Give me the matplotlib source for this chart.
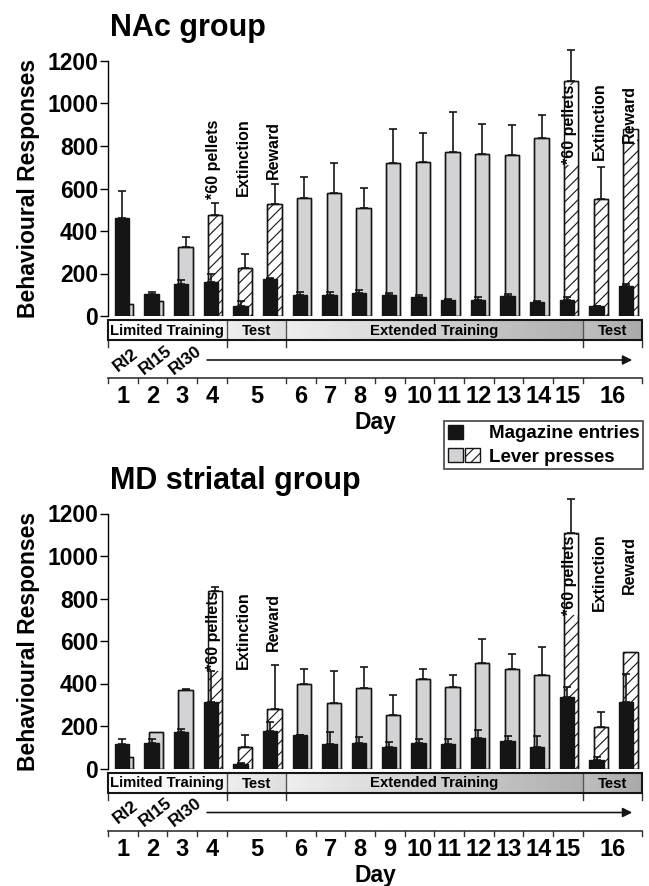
import numpy as np
import matplotlib
matplotlib.use('Agg')
import matplotlib.pyplot as plt
from matplotlib.patches import Patch, Rectangle
from matplotlib.legend_handler import HandlerTuple

plt.rcParams['font.family'] = ['Liberation Sans', 'DejaVu Sans']
plt.rcParams['font.weight'] = 'bold'
plt.rcParams['hatch.linewidth'] = 0.8

# ---- data ----
day_labels = [str(d) for d in range(1, 17)]
slots_per_day = [1, 1, 1, 1, 2, 1, 1, 1, 1, 1, 1, 1, 1, 1, 1, 2]
phase_names = ['Limited Training', 'Test', 'Extended Training', 'Test']
phase_days = [4, 1, 10, 1]
schedule_labels = ['RI2', 'RI15', 'RI30']
hatched_slots = [3, 4, 5, 15, 16, 17]
note_slots = [3, 4, 5, 15, 16, 17]
note_texts = ['*60 pellets', 'Extinction', 'Reward', '*60 pellets', 'Extinction', 'Reward']

nac_mag = [459, 105, 152, 161, 49, 174, 100, 100, 107, 97, 88, 74, 77, 96, 67, 74, 45, 139]
nac_mag_err = [130, 6, 19, 38, 20, 3, 11, 13, 15, 10, 9, 7, 11, 6, 3, 14, 4, 11]
nac_lever = [58, 70, 327, 475, 224, 525, 555, 578, 508, 719, 724, 772, 763, 757, 838, 1108, 550, 879]
nac_lever_err = [0, 0, 43, 59, 67, 94, 97, 141, 94, 160, 136, 190, 142, 142, 110, 144, 149, 0]
nac_note_y = [736, 747, 781, 900, 915, 952]

md_mag = [114, 122, 172, 312, 20, 175, 156, 116, 119, 102, 122, 115, 145, 128, 103, 338, 39, 312]
md_mag_err = [24, 15, 15, 146, 8, 44, 3, 56, 31, 21, 15, 26, 35, 25, 50, 46, 13, 133]
md_lever = [54, 173, 369, 833, 103, 281, 400, 309, 380, 252, 419, 384, 497, 469, 438, 1109, 194, 548]
md_lever_err = [0, 0, 6, 23, 53, 208, 66, 149, 97, 96, 47, 54, 112, 70, 132, 157, 72, 0]
md_note_y = [648, 650, 690, 911, 924, 960]

# ---- layout (pixels) ----
W, H = 649, 886
AX_L, AX_R = 108, 642
Y0, Y1200 = 316, 61
LOW_H = 117
DARK = '#151515'
GRAY = '#d3d3d5'
phase_shades = [(1.0, 0.95), (0.93, 0.87), (0.93, 0.69), (0.75, 0.66)]

fig = plt.figure(figsize=(W / 100, H / 100), dpi=100)


def px_axes(left, top, right, bottom):
    return fig.add_axes([left / W, 1 - bottom / H, (right - left) / W, (bottom - top) / H])


bounds = np.concatenate([[0], np.cumsum(slots_per_day)])
n_slots = int(bounds[-1])
centers = (bounds[:-1] + bounds[1:]) / 2
phase_bounds = bounds[np.concatenate([[0], np.cumsum(phase_days)])]


def draw_panel(off, title, mag, mag_err, lever, lever_err, note_y):
    ax = px_axes(AX_L, Y1200 + off, AX_R, Y0 + off)
    x = np.arange(n_slots) + 0.5
    xm, xl = x - 0.03, x + 0.115
    bw = 0.48

    lever_bars = ax.bar(xl, lever, width=bw, color=GRAY, edgecolor=DARK, linewidth=1.0, zorder=1)
    for i, b in enumerate(lever_bars):
        if i in hatched_slots:
            b.set_facecolor('white')
            b.set_hatch('///')
    ax.bar(xm, mag, width=bw, color=DARK, edgecolor=DARK, linewidth=1.0, zorder=2)

    for s, t, y in zip(note_slots, note_texts, note_y):
        ax.text(s + 0.56, y, t, rotation=90, ha='center', va='center', fontsize=11.5,
                fontweight='bold', zorder=3,
                bbox=dict(facecolor='white', edgecolor='none', pad=0.3))
    # outlines again so they stay visible around the note boxes
    ax.bar(xl, lever, width=bw, facecolor='none', edgecolor=DARK, linewidth=1.0, zorder=4)

    for xs, vals, errs in [(xm, mag, mag_err), (xl, lever, lever_err)]:
        vals, errs = np.array(vals), np.array(errs)
        keep = errs > 0
        eb = ax.errorbar(xs[keep], vals[keep], yerr=[np.zeros(keep.sum()), errs[keep]],
                         fmt='none', ecolor=DARK, elinewidth=1.2, capsize=3, capthick=1.2,
                         zorder=5)
        for art in eb.lines[1] + eb.lines[2]:
            art.set_clip_on(False)

    ax.set_xlim(0, n_slots)
    ax.set_ylim(0, 1200)
    ax.set_yticks(range(0, 1201, 200))
    ax.tick_params(axis='y', labelsize=16.5, length=5.5, width=1.0, pad=1.5)
    for lab in ax.get_yticklabels():
        lab.set_fontweight('bold')
    ax.set_xticks([])
    for sp in ['top', 'right', 'bottom']:
        ax.spines[sp].set_visible(False)
    ax.spines['left'].set_linewidth(1.0)
    ax.set_ylabel('Behavioural Responses', fontsize=16.5, fontweight='bold')
    ax.yaxis.set_label_coords(-0.127, 0.5)
    ax.text(0.004, 1 + 25 / 255, title, transform=ax.transAxes, fontsize=22,
            fontweight='bold', va='baseline', ha='left')

    # ---- phase bar, schedule arrow and day axis ----
    lo = px_axes(AX_L, Y0 + off, AX_R, Y0 + off + LOW_H)
    lo.axis('off')
    bt, bb = 4.5, 24.5
    for k, name in enumerate(phase_names):
        s0, s1 = phase_bounds[k], phase_bounds[k + 1]
        g0, g1 = phase_shades[k]
        grad = np.linspace(g0, g1, 64)[None, :]
        lo.imshow(grad, extent=[s0, s1, bb, bt], cmap='gray', vmin=0, vmax=1,
                  aspect='auto', interpolation='bilinear', zorder=1)
        lo.text((s0 + s1) / 2, (bt + bb) / 2 + 0.5, name, ha='center', va='center',
                fontsize=10.7, fontweight='bold', zorder=3)
        if 0 < k:
            lo.plot([s0, s0], [bt, bb], color='#555555', lw=1.0, zorder=2, clip_on=False)
    lo.add_patch(Rectangle((0, bt), n_slots, bb - bt, facecolor='none', edgecolor=DARK,
                           lw=1.5, zorder=4, clip_on=False))
    for s in phase_bounds:
        lo.plot([s, s], [bb, bb + 6.5], color='#333333', lw=1.0, clip_on=False)

    for k, lab in enumerate(schedule_labels):
        lo.text(k + 0.6, 44, lab, rotation=38, ha='center', va='center', fontsize=12.5,
                fontweight='bold', rotation_mode='anchor')
    lo.annotate('', xy=(17.67, 44), xytext=(3.34, 44),
                arrowprops=dict(arrowstyle='-|>', lw=1.2, color=DARK, mutation_scale=14,
                                shrinkA=0, shrinkB=0))

    lo.plot([0, n_slots], [62, 62], color='#333333', lw=1.2, clip_on=False)
    for s in bounds:
        lo.plot([s, s], [62, 67], color='#333333', lw=1.0, clip_on=False)
    for c, lab in zip(centers, day_labels):
        lo.text(c, 81, lab, ha='center', va='center', fontsize=17, fontweight='bold')
    lo.text(n_slots / 2, 107, 'Day', ha='center', va='center', fontsize=16.5, fontweight='bold')
    lo.set_xlim(0, n_slots)
    lo.set_ylim(LOW_H, 0)
    return ax


draw_panel(0, 'NAc group', nac_mag, nac_mag_err, nac_lever, nac_lever_err, nac_note_y)
draw_panel(452.5, 'MD striatal group', md_mag, md_mag_err, md_lever, md_lever_err, md_note_y)

# ---- legend ----
blank = Patch(facecolor='none', edgecolor='none')
h_mag = (Patch(facecolor=DARK, edgecolor=DARK), blank)
h_lev = (Patch(facecolor=GRAY, edgecolor=DARK, lw=1.0),
         Patch(facecolor='white', edgecolor=DARK, hatch='///', lw=1.0))
leg = fig.legend([h_mag, h_lev], ['Magazine entries', 'Lever presses'],
                 handler_map={tuple: HandlerTuple(ndivide=None, pad=0.12)},
                 loc='upper right', bbox_to_anchor=(643 / W, 1 - 421 / H),
                 fontsize=13.5, frameon=True, fancybox=False, borderpad=0.2,
                 labelspacing=0.3, handlelength=1.72, handleheight=0.8,
                 handletextpad=0.45, borderaxespad=0)
leg.get_frame().set_edgecolor(DARK)
leg.get_frame().set_linewidth(1.2)
for t in leg.get_texts():
    t.set_fontweight('bold')

fig.savefig('out.png', dpi=100, facecolor='white')
